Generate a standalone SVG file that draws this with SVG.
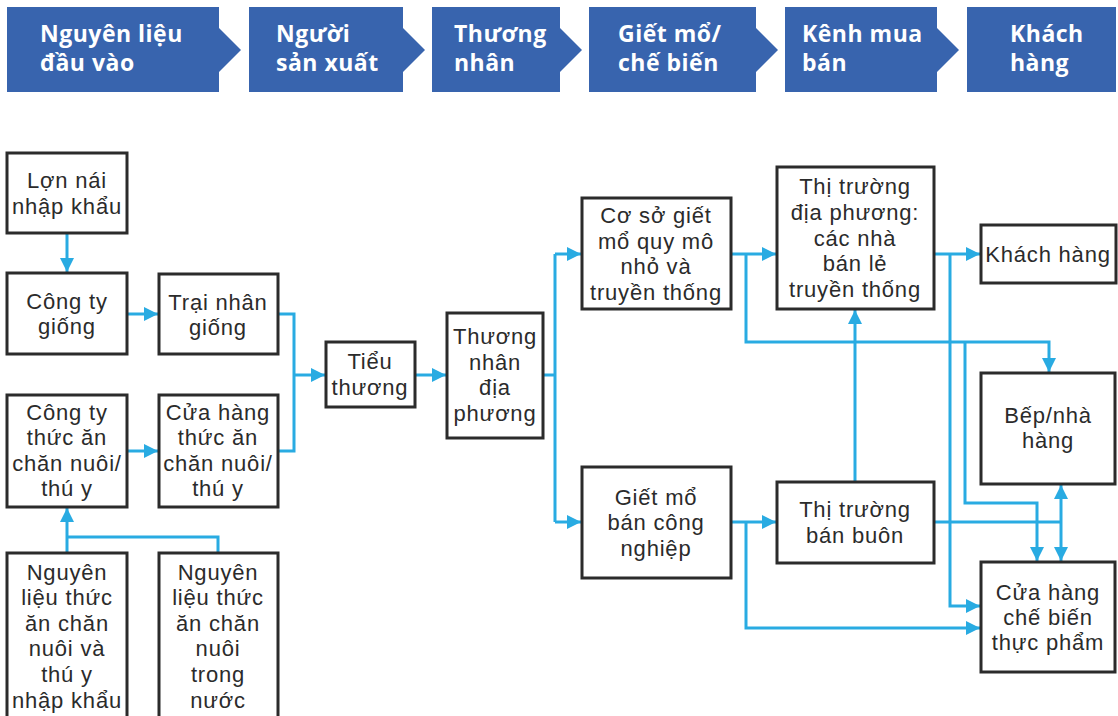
<svg xmlns="http://www.w3.org/2000/svg" width="1118" height="716" viewBox="0 0 1118 716">
<style>
.hd{fill:#3864ae}
.ht{font-family:"Open Sans","Liberation Sans",sans-serif;font-weight:700;font-size:23px;letter-spacing:0.5px;fill:#fff}
.bx{fill:#fff;stroke:#2b2b2b;stroke-width:3}
.t{font-family:"Liberation Sans",Arial,sans-serif;font-size:22px;letter-spacing:0.8px;fill:#2b2b2b;text-anchor:middle}
.c{fill:none;stroke:#29abe2;stroke-width:3}
</style>
<defs>
<marker id="ah" markerUnits="userSpaceOnUse" markerWidth="16" markerHeight="16" refX="14" refY="7" orient="auto-start-reverse">
<path d="M0,0 L14,7 L0,14 Z" fill="#29abe2"/>
</marker>
</defs>
<g id="header">
<g id="h1"><path class="hd" d="M7,7 H219 V28 L241,50 L219,72 V92 H7 Z"/><text class="ht" x="40" y="42">Nguyên liệu</text><text class="ht" x="40" y="71">đầu vào</text></g>
<g id="h2"><path class="hd" d="M249,7 H403 V28 L425,50 L403,72 V92 H249 Z"/><text class="ht" x="276" y="42">Người</text><text class="ht" x="276" y="71">sản xuất</text></g>
<g id="h3"><path class="hd" d="M432,7 H560 V28 L582,50 L560,72 V92 H432 Z"/><text class="ht" x="454" y="42">Thương</text><text class="ht" x="454" y="71">nhân</text></g>
<g id="h4"><path class="hd" d="M589,7 H756 V28 L778,50 L756,72 V92 H589 Z"/><text class="ht" x="618" y="42">Giết mổ/</text><text class="ht" x="618" y="71">chế biến</text></g>
<g id="h5"><path class="hd" d="M785,7 H937 V28 L959,50 L937,72 V92 H785 Z"/><text class="ht" x="802" y="42">Kênh mua</text><text class="ht" x="802" y="71">bán</text></g>
<g id="h6"><path class="hd" d="M967,7 H1116 V92 H967 Z"/><text class="ht" x="1010" y="42">Khách</text><text class="ht" x="1010" y="71">hàng</text></g>
</g>
<g id="connectors">
<path class="c" d="M67,233 V272" marker-end="url(#ah)"/>
<path class="c" d="M127,314 H158" marker-end="url(#ah)"/>
<path class="c" d="M127,451 H158" marker-end="url(#ah)"/>
<path class="c" d="M278,314 H294 V451 H278"/>
<path class="c" d="M294,375 H325" marker-end="url(#ah)"/>
<path class="c" d="M67,553 V508" marker-end="url(#ah)"/>
<path class="c" d="M67,537 H218 V553"/>
<path class="c" d="M415,375 H446" marker-end="url(#ah)"/>
<path class="c" d="M543,375 H555"/>
<path class="c" d="M555,254 V522"/>
<path class="c" d="M555,254 H581" marker-end="url(#ah)"/>
<path class="c" d="M555,522 H581" marker-end="url(#ah)"/>
<path class="c" d="M731,254 H776" marker-end="url(#ah)"/>
<path class="c" d="M746,254 V342 H1049 V372" marker-end="url(#ah)"/>
<path class="c" d="M934,254 H980" marker-end="url(#ah)"/>
<path class="c" d="M950,254 V606 H980" marker-end="url(#ah)"/>
<path class="c" d="M965,342 V503 H1037 V561" marker-end="url(#ah)"/>
<path class="c" d="M731,522 H776" marker-end="url(#ah)"/>
<path class="c" d="M746,522 V628 H980" marker-end="url(#ah)"/>
<path class="c" d="M855,482 V310" marker-end="url(#ah)"/>
<path class="c" d="M934,522 H1061"/>
<path class="c" d="M1061,485 V561" marker-start="url(#ah)" marker-end="url(#ah)"/>
</g>
<g id="n-lon-nai"><rect class="bx" x="7" y="153" width="120" height="80"/><text class="t" x="67" y="188">Lợn nái</text><text class="t" x="67" y="214">nhập khẩu</text></g>
<g id="n-cong-ty-giong"><rect class="bx" x="7" y="273" width="120" height="81"/><text class="t" x="67" y="309">Công ty</text><text class="t" x="67" y="334">giống</text></g>
<g id="n-trai"><rect class="bx" x="159" y="274" width="119" height="80"/><text class="t" x="218" y="310">Trại nhân</text><text class="t" x="218" y="335">giống</text></g>
<g id="n-cty-thuc-an"><rect class="bx" x="7" y="395" width="120" height="112"/><text class="t" x="67" y="420">Công ty</text><text class="t" x="67" y="445">thức ăn</text><text class="t" x="67" y="471">chăn nuôi/</text><text class="t" x="67" y="496">thú y</text></g>
<g id="n-ch-thuc-an"><rect class="bx" x="159" y="395" width="119" height="112"/><text class="t" x="218" y="420">Cửa hàng</text><text class="t" x="218" y="445">thức ăn</text><text class="t" x="218" y="471">chăn nuôi/</text><text class="t" x="218" y="496">thú y</text></g>
<g id="n-nl-nk"><rect class="bx" x="7" y="553" width="120" height="170"/><text class="t" x="67" y="580">Nguyên</text><text class="t" x="67" y="605">liệu thức</text><text class="t" x="67" y="631">ăn chăn</text><text class="t" x="67" y="656">nuôi và</text><text class="t" x="67" y="682">thú y</text><text class="t" x="67" y="708">nhập khẩu</text></g>
<g id="n-nl-tn"><rect class="bx" x="159" y="553" width="119" height="170"/><text class="t" x="218" y="580">Nguyên</text><text class="t" x="218" y="605">liệu thức</text><text class="t" x="218" y="631">ăn chăn</text><text class="t" x="218" y="656">nuôi</text><text class="t" x="218" y="682">trong</text><text class="t" x="218" y="708">nước</text></g>
<g id="n-tieu-thuong"><rect class="bx" x="326" y="342" width="89" height="65"/><text class="t" x="370" y="369">Tiểu</text><text class="t" x="370" y="395">thương</text></g>
<g id="n-thuong-nhan"><rect class="bx" x="447" y="313" width="96" height="125"/><text class="t" x="495" y="344">Thương</text><text class="t" x="495" y="370">nhân</text><text class="t" x="495" y="395">địa</text><text class="t" x="495" y="421">phương</text></g>
<g id="n-co-so"><rect class="bx" x="582" y="198" width="149" height="111"/><text class="t" x="656" y="223">Cơ sở giết</text><text class="t" x="656" y="249">mổ quy mô</text><text class="t" x="656" y="274">nhỏ và</text><text class="t" x="656" y="300">truyền thống</text></g>
<g id="n-giet-mo-cn"><rect class="bx" x="582" y="467" width="149" height="111"/><text class="t" x="656" y="505">Giết mổ</text><text class="t" x="656" y="530">bán công</text><text class="t" x="656" y="556">nghiệp</text></g>
<g id="n-tt-dia-phuong"><rect class="bx" x="777" y="167" width="157" height="142"/><text class="t" x="855" y="194">Thị trường</text><text class="t" x="855" y="220">địa phương:</text><text class="t" x="855" y="246">các nhà</text><text class="t" x="855" y="271">bán lẻ</text><text class="t" x="855" y="297">truyền thống</text></g>
<g id="n-tt-ban-buon"><rect class="bx" x="777" y="482" width="157" height="81"/><text class="t" x="855" y="517">Thị trường</text><text class="t" x="855" y="543">bán buôn</text></g>
<g id="n-khach-hang"><rect class="bx" x="981" y="225" width="135" height="58"/><text class="t" x="1048" y="262">Khách hàng</text></g>
<g id="n-bep"><rect class="bx" x="981" y="373" width="134" height="111"/><text class="t" x="1048" y="423">Bếp/nhà</text><text class="t" x="1048" y="448">hàng</text></g>
<g id="n-cua-hang-cb"><rect class="bx" x="981" y="562" width="134" height="110"/><text class="t" x="1048" y="600">Cửa hàng</text><text class="t" x="1048" y="625">chế biến</text><text class="t" x="1048" y="650">thực phẩm</text></g>
</svg>
